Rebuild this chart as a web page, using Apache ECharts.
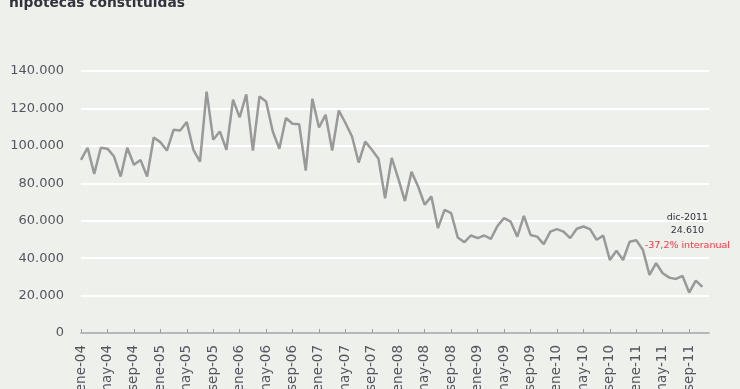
<!DOCTYPE html>
<html>
<head>
<meta charset="utf-8">
<script src="https://cdn.jsdelivr.net/npm/echarts@6/dist/echarts.min.js"></script>
<style>
html,body{margin:0;padding:0;background:#eef0eb;}
#chart{width:740px;height:389px;}
</style>
</head>
<body>
<div id="chart"></div>
<script>
// Month abbreviations and years used to build category labels
const monthNames = ['ene','feb','mar','abr','may','jun','jul','ago','sep','oct','nov','dic'];
const years = ['04','05','06','07','08','09','10','11'];

// Hipotecas constituidas (monthly)
const hipotecas = [
  92500, 99000, 85000, 99000, 98500, 94300, 83600, 99000, 89900, 92500, 83600, 104500,
  102000, 97500, 108600, 108200, 112700, 97900, 91600, 129000, 103300, 107700, 97900, 124700,
  115200, 127500, 97500, 126400, 123700, 107800, 98400, 114900, 111800, 111600, 86800, 125200,
  109800, 116600, 97500, 118900, 112200, 105000, 91100, 102300, 97900, 93100, 72000, 93600,
  82500, 70500, 86100, 78300, 68500, 73000, 56000, 65800, 64000, 51000, 48500, 52100,
  50700, 52100, 50300, 57200, 61400, 59500, 51500, 62600, 52400, 51500, 47500, 54200,
  55500, 54200, 50700, 55700, 56900, 55500, 49800, 52000, 39000, 44000, 39000, 48800,
  49600, 44400, 31000, 37300, 31900, 29600, 28900, 30500, 21600, 28000, 24610
];

// Annotation texts
const noteLines = ['dic-2011', '24.610', '-37,2% interanual'];
const titleText = 'hipotecas constituidas';

const categories = [];
years.forEach(y => monthNames.forEach(m => categories.push(m + '-' + y)));

const lastIdx = hipotecas.length - 1;

function fmt(v) {
  return String(v).replace(/\B(?=(\d{3})+(?!\d))/g, '.');
}

const chart = echarts.init(document.getElementById('chart'), null, {renderer: 'canvas'});
chart.setOption({
  backgroundColor: '#eef0eb',
  animation: false,
  textStyle: {fontFamily: 'DejaVu Sans'},
  graphic: [{
    type: 'text',
    left: 9,
    top: -4,
    style: {text: titleText, font: 'bold 13.8px "DejaVu Sans"', fill: '#33333d'}
  }],
  grid: {left: 81, right: 31, top: 71, bottom: 56, containLabel: false, outerBoundsMode: 'none'},
  xAxis: {
    type: 'category',
    data: categories,
    boundaryGap: false,
    axisLine: {lineStyle: {color: '#a0a0a0', width: 1.5}},
    axisTick: {interval: 3, inside: true, length: 4, lineStyle: {color: '#a0a0a0'}},
    axisLabel: {interval: 3, rotate: 90, margin: 12, fontSize: 13.5, color: '#55555f', fontFamily: 'DejaVu Sans'},
    splitLine: {show: false}
  },
  yAxis: {
    type: 'value',
    min: 0,
    max: 140000,
    interval: 20000,
    axisLine: {show: false},
    axisTick: {show: false},
    axisLabel: {fontSize: 13, color: '#55555f', margin: 17, formatter: v => fmt(v), fontFamily: 'DejaVu Sans'},
    splitLine: {lineStyle: {color: '#ffffff', width: 2}}
  },
  series: [{
    type: 'line',
    data: hipotecas,
    symbol: 'none',
    lineStyle: {color: '#999999', width: 2.5},
    markPoint: {
      symbol: 'circle',
      symbolSize: 0,
      data: [{
        coord: [lastIdx, hipotecas[lastIdx]],
        label: {
          show: true,
          position: 'inside',
          offset: [-15, -54],
          align: 'center',
          formatter: '{a|' + noteLines[0] + '}\n{a|' + noteLines[1] + '}\n{b|' + noteLines[2] + '}',
          rich: {
            a: {fontSize: 9.5, color: '#33333d', lineHeight: 13, fontFamily: 'DejaVu Sans', align: 'center'},
            b: {fontSize: 9.5, color: '#ff3344', lineHeight: 18, fontFamily: 'DejaVu Sans', align: 'center'}
          }
        }
      }]
    }
  }]
});
</script>
</body>
</html>
